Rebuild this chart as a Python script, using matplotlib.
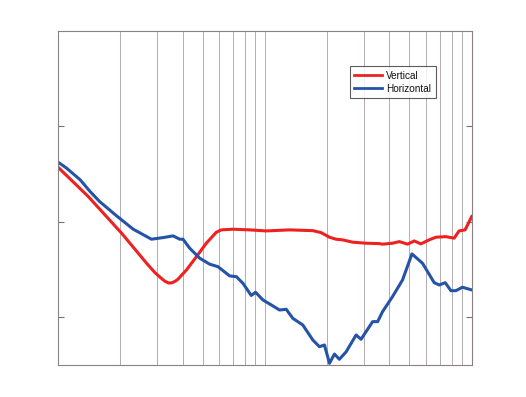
import matplotlib
matplotlib.use("Agg")
import matplotlib.pyplot as plt
import numpy as np

plt.rcParams['font.family'] = ['Liberation Sans', 'DejaVu Sans']

# Frequency (log axis) and levels
vert_freq = [10, 14.0, 20.3, 26.8, 29.4, 31.0, 32.8, 34.3, 35.6, 36.9, 38.0, 41.8,
             46.7, 52.1, 58.3, 61.6, 70.1, 84.4, 101.6, 131.5, 170.6, 187.1, 205.3,
             220.9, 237.8, 265.6, 308.2, 357.4, 370.7, 414.0, 446.7, 489.8, 527.2,
             567.5, 622.3, 671.4, 749.9, 822.2, 868.9, 929.0, 1000]
vert_level = [5.71, 2.63, -1.22, -4.37, -5.35, -5.80, -6.25, -6.45, -6.42, -6.25,
              -6.05, -5.07, -3.68, -2.27, -1.11, -0.87, -0.80, -0.87, -0.98, -0.87,
              -0.95, -1.16, -1.64, -1.85, -1.92, -2.16, -2.27, -2.31, -2.37, -2.27,
              -2.10, -2.37, -2.03, -2.34, -1.92, -1.64, -1.58, -1.74, -0.98, -0.87,
              0.53]

horz_freq = [10, 11.0, 12.8, 14.3, 15.9, 19.2, 23.1, 28.3, 32.2, 36.0, 38.8, 40.2,
             43.3, 48.4, 54.1, 59.3, 67.6, 72.8, 78.3, 85.9, 90.2, 97.8, 105.4,
             117.8, 126.8, 136.5, 152.5, 170.6, 183.6, 194.1, 205.3, 216.9, 229.2,
             247.2, 276.1, 291.7, 331.9, 350.9, 370.7, 414.0, 463.1, 514.0, 578.2,
             658.6, 696.6, 744.7, 793.3, 838.3, 901.6, 1000]
horz_level = [6.24, 5.61, 4.38, 3.15, 2.10, 0.60, -0.80, -1.85, -1.68, -1.50, -1.85,
              -1.85, -2.79, -3.84, -4.47, -4.73, -5.70, -5.78, -6.47, -7.75, -7.42,
              -8.22, -8.64, -9.28, -9.20, -10.15, -10.85, -12.43, -13.13, -12.95,
              -14.87, -13.90, -14.45, -13.66, -11.90, -12.35, -10.50, -10.50, -9.45,
              -7.88, -6.12, -3.39, -4.37, -6.41, -6.65, -6.41, -7.25, -7.25, -6.89,
              -7.17]

y_ticks = [-10, 0, 10]
labels = ["Vertical", "Horizontal"]

fig = plt.figure(figsize=(5.26, 3.97), dpi=100)
ax = fig.add_axes([0.1103, 0.0806, 0.7865, 0.8413])

ax.plot(vert_freq, vert_level, color='#ee2020', lw=2.2, label=labels[0],
        solid_joinstyle='round')
ax.plot(horz_freq, horz_level, color='#2553a8', lw=2.2, label=labels[1],
        solid_joinstyle='round')

ax.set_xscale('log')
ax.set_xlim(10, 1000)
ax.set_ylim(-15.05, 20)
ax.set_yticks(y_ticks)
ax.set_yticklabels([])
ax.xaxis.set_major_formatter(matplotlib.ticker.NullFormatter())
ax.xaxis.set_minor_formatter(matplotlib.ticker.NullFormatter())
ax.tick_params(axis='x', which='both', length=0)
ax.tick_params(axis='y', which='both', direction='in', length=4, width=0.8,
               color='#777070', left=True, right=True)
ax.grid(True, axis='x', which='both', color='#b4acac', lw=0.7)
ax.grid(False, axis='y')
for s in ax.spines.values():
    s.set_color('#8a8282')
    s.set_linewidth(0.8)

leg = ax.legend(loc='upper left', bbox_to_anchor=(0.705, 0.894), fontsize=7.2,
                frameon=True, fancybox=False, handlelength=2.8,
                handletextpad=0.4, borderpad=0.45, labelspacing=0.3,
                borderaxespad=0)
leg.get_frame().set_edgecolor('#333333')
leg.get_frame().set_linewidth(0.8)
for line in leg.get_lines():
    line.set_linewidth(2.0)
for t in leg.get_texts():
    t.set_color('#111111')

fig.savefig('out.png', dpi=100)
